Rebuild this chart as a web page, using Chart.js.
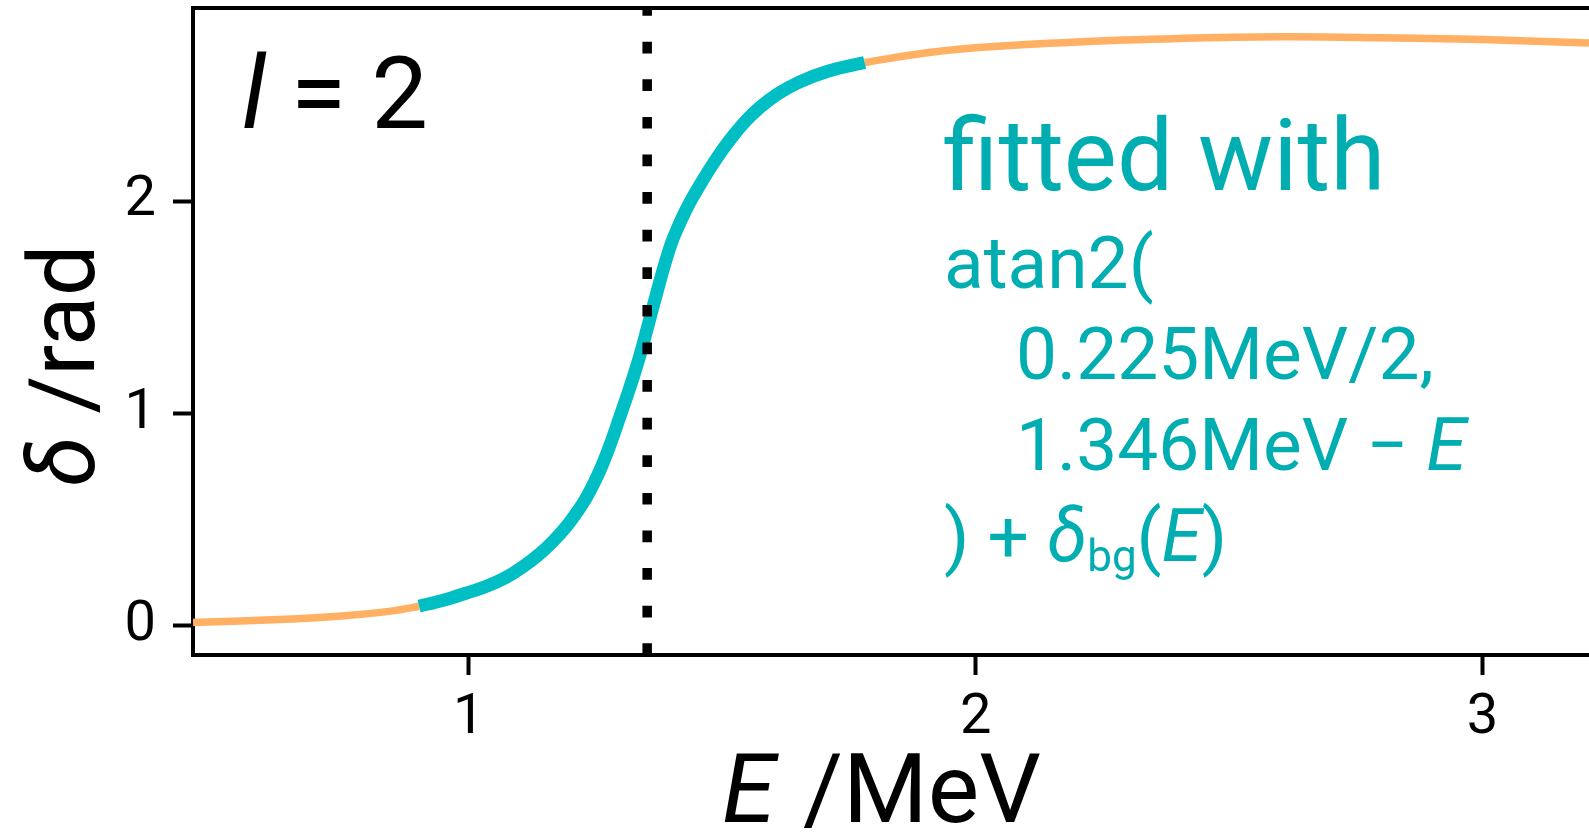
<!DOCTYPE html>
<html>
<head>
<meta charset="utf-8">
<script src="https://cdn.jsdelivr.net/npm/chart.js@4.4.1/dist/chart.umd.min.js"></script>
<style>
  html, body { margin: 0; padding: 0; background: #fff; }
  #wrap { width: 1589px; height: 835px; position: relative; }
</style>
</head>
<body>
<div id="wrap"><canvas id="phaseChart"></canvas></div>
<script>
// axis ranges and ticks
const xRange = [0.456, 3.21];
const yRange = [-0.138, 2.912];
const xTicks = [1, 2, 3];
const yTicks = [0, 1, 2];

// dotted line position as drawn in the picture, MeV
const resonanceE = 1.352;

// phase shift: below the fit window
const lowE     = [0.456, 0.55, 0.65, 0.75, 0.85, 0.902];
const lowDelta = [0.015, 0.022, 0.032, 0.046, 0.070, 0.092];

// fit window (thick teal part)
const fitE     = [0.902, 0.950, 0.994, 1.035, 1.073, 1.105, 1.139, 1.165, 1.192, 1.212,
                  1.231, 1.247, 1.262, 1.280, 1.296, 1.3125, 1.327, 1.342, 1.352, 1.362,
                  1.375, 1.388, 1.400, 1.412, 1.425, 1.440, 1.460, 1.483, 1.500, 1.521,
                  1.547, 1.574, 1.610, 1.653, 1.710, 1.781];
const fitDelta = [0.092, 0.120, 0.153, 0.186, 0.227, 0.275, 0.337, 0.395, 0.466, 0.530,
                  0.600, 0.672, 0.750, 0.860, 0.970, 1.085, 1.190, 1.310, 1.400, 1.490,
                  1.605, 1.715, 1.805, 1.875, 1.943, 2.012, 2.094, 2.181, 2.241, 2.308,
                  2.381, 2.443, 2.508, 2.564, 2.615, 2.655];

// above the fit window
const highE     = [1.781, 1.9, 2.0, 2.2, 2.4, 2.6, 2.8, 3.0, 3.21];
const highDelta = [2.655, 2.700, 2.725, 2.752, 2.768, 2.776, 2.772, 2.763, 2.747];

const ORANGE = '#FFB063';
const TEAL = '#00BFC4';
const TEXT_TEAL = '#00ADB1';

function toPoints(xs, ys) {
    return xs.map((x, i) => ({ x: x, y: ys[i] }));
}

// draw a run of text pieces with mixed styles, left to right
function drawRuns(ctx, x, y, runs) {
    let cx = x;
    runs.forEach(r => {
        ctx.font = (r.italic ? 'italic ' : '') + r.size + 'px Roboto';
        if (r.at !== undefined) cx = r.at;
        ctx.fillText(r.text, cx, y + (r.dy || 0));
        cx += ctx.measureText(r.text).width;
    });
}

const labelPlugin = {
    id: 'labelPlugin',
    afterDraw(chart) {
        const ctx = chart.ctx;
        const area = chart.chartArea;
        ctx.save();

        // top frame line
        ctx.strokeStyle = '#000';
        ctx.lineWidth = 4;
        ctx.beginPath();
        ctx.moveTo(area.left - 2, area.top);
        ctx.lineTo(chart.width, area.top);
        ctx.stroke();

        ctx.textBaseline = 'alphabetic';
        ctx.textAlign = 'left';

        // panel label
        ctx.fillStyle = '#000';
        drawRuns(ctx, 242, 128, [
            { text: 'l', size: 101, italic: true },
            { text: ' = 2', size: 101 }
        ]);

        // fit description
        ctx.fillStyle = TEXT_TEAL;
        drawRuns(ctx, 943, 190, [{ text: 'fitted with', size: 100 }]);
        drawRuns(ctx, 944, 288, [{ text: 'atan2(', size: 73 }]);
        drawRuns(ctx, 1016, 379, [{ text: '0.225MeV/2,', size: 73 }]);
        drawRuns(ctx, 1016, 470, [
            { text: '1.346MeV \u2212 ', size: 73 },
            { text: 'E', size: 73, italic: true }
        ]);
        drawRuns(ctx, 944, 561, [
            { text: ') + ', size: 73 },
            { text: '\u03b4', size: 73, italic: true },
            { text: 'bg', size: 44, dy: 10 },
            { text: '(', size: 73 },
            { text: 'E', size: 73, italic: true },
            { text: ')', size: 73 }
        ]);

        // axis titles
        ctx.fillStyle = '#000';
        drawRuns(ctx, 722, 822, [
            { text: 'E', size: 97, italic: true },
            { text: '/MeV', size: 97, at: 803 }
        ]);
        ctx.translate(94, 487);
        ctx.rotate(-Math.PI / 2);
        drawRuns(ctx, 0, 0, [
            { text: '\u03b4', size: 92, italic: true },
            { text: ' /rad', size: 92 }
        ]);
        ctx.restore();
    }
};

const axisStyle = {
    grid: {
        display: true,
        drawOnChartArea: false,
        drawTicks: true,
        tickLength: 20,
        tickWidth: 4,
        tickColor: '#000',
        color: '#000'
    },
    border: { display: true, color: '#000', width: 4 }
};

new Chart(document.getElementById('phaseChart'), {
    type: 'line',
    data: {
        datasets: [
            {
                data: [{ x: resonanceE, y: yRange[0] }, { x: resonanceE, y: yRange[1] }],
                borderColor: '#000',
                borderWidth: 9.5,
                borderDash: [11.7, 25.9],
                borderCapStyle: 'butt',
                pointRadius: 0
            },
            {
                data: toPoints(fitE, fitDelta),
                borderColor: TEAL,
                borderWidth: 13,
                cubicInterpolationMode: 'monotone',
                pointRadius: 0
            },
            {
                data: toPoints(lowE, lowDelta),
                borderColor: ORANGE,
                borderWidth: 7.5,
                cubicInterpolationMode: 'monotone',
                pointRadius: 0
            },
            {
                data: toPoints(highE, highDelta),
                borderColor: ORANGE,
                borderWidth: 7.5,
                tension: 0.4,
                pointRadius: 0
            }
        ]
    },
    options: {
        responsive: true,
        maintainAspectRatio: false,
        animation: false,
        layout: { padding: { top: 8, left: 0, right: 0, bottom: 0 } },
        plugins: { legend: { display: false }, tooltip: { enabled: false } },
        scales: {
            x: Object.assign({
                type: 'linear',
                min: xRange[0],
                max: xRange[1],
                afterBuildTicks: s => { s.ticks = xTicks.map(v => ({ value: v })); },
                afterFit: s => { s.height = 180; s.paddingLeft = 0; s.paddingRight = 0; },
                ticks: {
                    font: { family: 'Roboto', size: 56 },
                    color: '#000',
                    padding: 10,
                    maxRotation: 0
                }
            }, axisStyle),
            y: Object.assign({
                type: 'linear',
                min: yRange[0],
                max: yRange[1],
                afterBuildTicks: s => { s.ticks = yTicks.map(v => ({ value: v })); },
                afterFit: s => { s.width = 193; s.paddingTop = 0; s.paddingBottom = 0; },
                ticks: {
                    font: { family: 'Roboto', size: 56 },
                    color: '#000',
                    padding: 17
                }
            }, axisStyle)
        }
    },
    plugins: [labelPlugin]
});
</script>
</body>
</html>
